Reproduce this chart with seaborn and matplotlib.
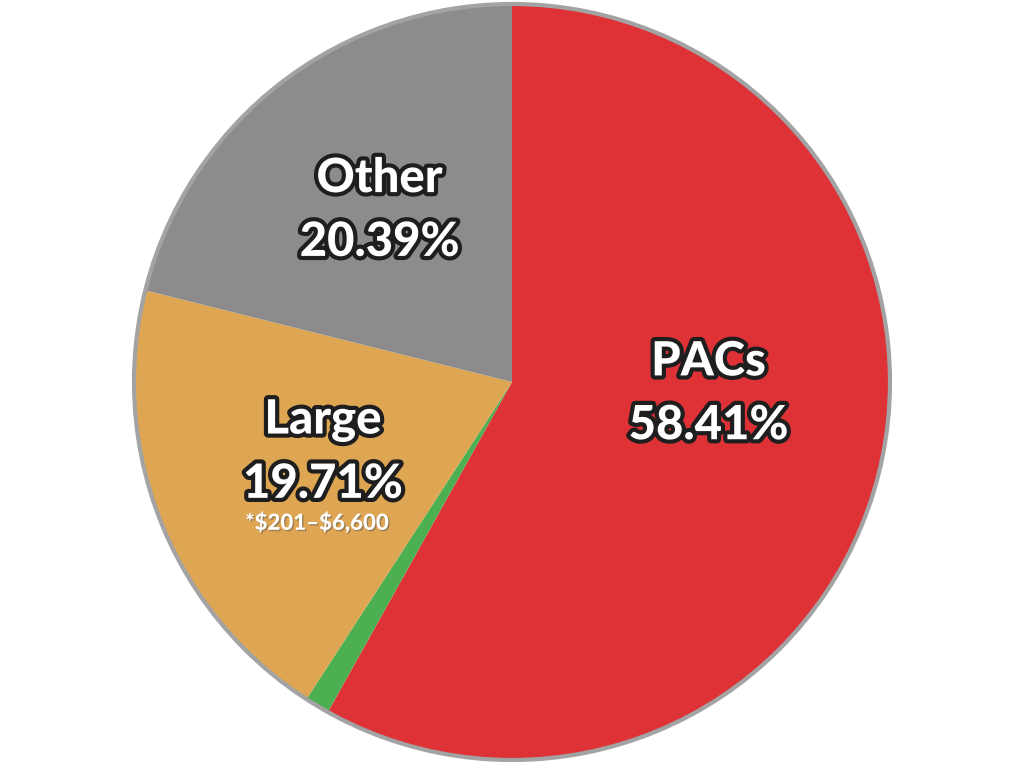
import matplotlib
matplotlib.use("Agg")
import matplotlib.pyplot as plt
import matplotlib.patheffects as pe
import seaborn as sns

# slices, clockwise from 12 o'clock
names = ["PACs", "Small", "Large", "Other"]
printed_pct = [58.41, 1.49, 19.71, 20.39]     # what the labels say
slice_size = [58.1, 1.05, 19.75, 21.1]        # wedge sizes as drawn in the picture
colors = ["#DE3237", "#4CAF50", "#DEA653", "#8C8C8C"]

# which slices carry a label, and where (data units, pie radius = 1)
label_names = ["PACs", "Large", "Other"]
label_pos = [(0.52, -0.03), (-0.50, -0.185), (-0.35, 0.455)]
note_text = r"*\$201–\$6,600"
note_pos = (-0.516, -0.372)

sns.set_theme(style="white")
plt.rcParams['font.family'] = ['Lato', 'DejaVu Sans']

fig = plt.figure(figsize=(10.24, 7.68), dpi=100)
ax = fig.add_axes([0, 0, 1, 1])

ax.pie(slice_size, colors=colors, startangle=90, counterclock=False,
       radius=1, wedgeprops=dict(linewidth=0))
ax.add_patch(plt.Circle((0, 0), 1, fill=False, edgecolor="#A3A3A3", linewidth=3))

outline = [pe.withStroke(linewidth=6, foreground="#1E1E1E")]
pct_of = dict(zip(names, printed_pct))
for name, (x, y) in zip(label_names, label_pos):
    ax.text(x, y, f"{name}\n{pct_of[name]:.2f}%", ha="center", va="center",
            fontsize=34, fontweight="black", color="white",
            linespacing=1.55, path_effects=outline)
ax.text(note_pos[0], note_pos[1], note_text, ha="center", va="center",
        fontsize=16, fontweight="black", color="white",
        path_effects=[pe.withSimplePatchShadow(offset=(1, -1), alpha=0.45)])

px = 378.0
ax.set_xlim(-512 / px, 512 / px)
ax.set_ylim(-386 / px, 382 / px)
ax.set_aspect("equal")
ax.axis("off")

fig.savefig("out.png", dpi=100, facecolor="white")
